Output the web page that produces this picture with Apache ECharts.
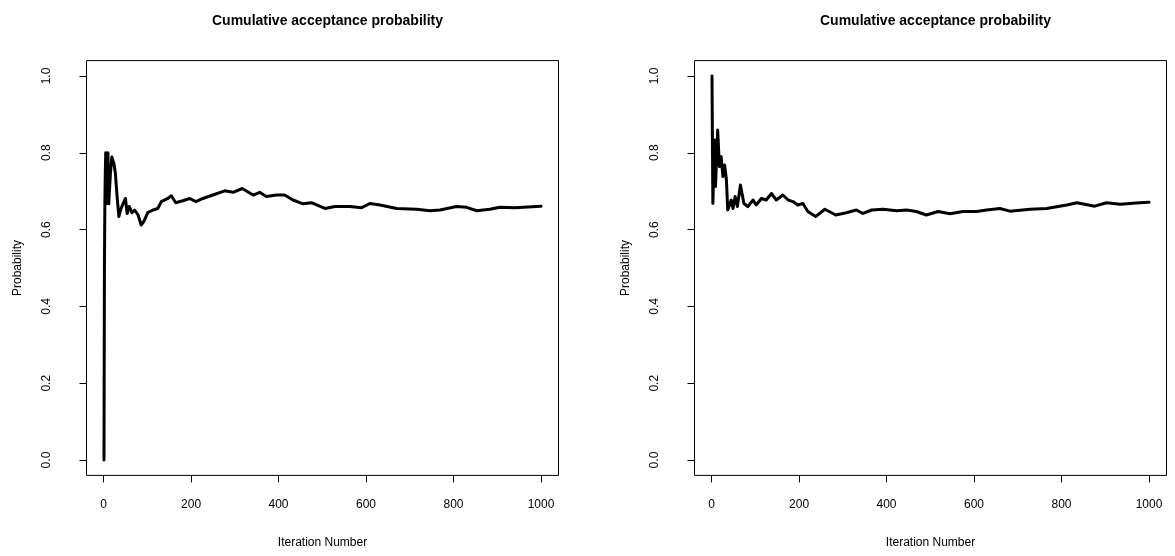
<!DOCTYPE html>
<html>
<head>
<meta charset="utf-8">
<script src="https://cdn.jsdelivr.net/npm/echarts@6/dist/echarts.min.js"></script>
<style>
html,body{margin:0;padding:0;background:#fff;}
#chart{width:1175px;height:556px;}
</style>
</head>
<body>
<div id="chart"></div>
<script>
// ---- data ----
const chartTitle = "Cumulative acceptance probability";
const xAxisName = "Iteration Number";
const yAxisName = "Probability";
const xTickValues = [0, 200, 400, 600, 800, 1000];
const yTickValues = [0, 0.2, 0.4, 0.6, 0.8, 1.0];

// left panel: [iteration, cumulative acceptance probability]
const leftSeries = [
  [1,0],[2,0.5],[3,0.667],[4,0.75],[5,0.8],[6,0.667],[7,0.714],[8,0.75],[9,0.778],[10,0.8],
  [11,0.727],[12,0.667],[13,0.692],[16,0.75],[19,0.789],[21,0.794],[24,0.77],[27,0.747],
  [31,0.686],[35,0.634],[40,0.655],[45,0.668],[50,0.681],[54,0.642],[59,0.66],[65,0.644],
  [71,0.651],[79,0.638],[86,0.612],[92,0.621],[101,0.644],[113,0.651],[124,0.655],[132,0.673],
  [147,0.681],[155,0.688],[165,0.67],[181,0.675],[197,0.681],[211,0.673],[227,0.681],[250,0.69],
  [277,0.701],[296,0.697],[317,0.707],[342,0.69],[357,0.697],[372,0.686],[395,0.69],[414,0.69],
  [433,0.677],[456,0.667],[475,0.67],[506,0.655],[529,0.66],[563,0.66],[590,0.657],[609,0.668],
  [632,0.664],[670,0.655],[716,0.653],[746,0.649],[769,0.651],[807,0.66],[830,0.658],[853,0.649],
  [883,0.653],[906,0.658],[940,0.657],[970,0.659],[1000,0.661]
];

// right panel: [iteration, cumulative acceptance probability]
const rightSeries = [
  [1,1.0],[3,0.668],[7,0.833],[9,0.712],[14,0.859],[18,0.764],[22,0.79],[26,0.738],[30,0.768],
  [34,0.729],[37,0.651],[45,0.677],[49,0.655],[54,0.686],[59,0.66],[66,0.716],[74,0.668],
  [83,0.66],[95,0.677],[102,0.664],[114,0.681],[125,0.677],[137,0.694],[148,0.677],[163,0.69],
  [175,0.677],[186,0.673],[197,0.664],[209,0.668],[220,0.647],[238,0.634],[259,0.653],[284,0.638],
  [308,0.644],[331,0.651],[346,0.642],[366,0.651],[392,0.653],[423,0.649],[446,0.651],[468,0.647],
  [491,0.638],[518,0.647],[545,0.641],[575,0.647],[606,0.647],[629,0.651],[659,0.655],[682,0.648],
  [728,0.653],[766,0.655],[812,0.664],[835,0.67],[876,0.661],[903,0.67],[934,0.666],[979,0.67],
  [1000,0.671]
];

// ---- chart ----
const FONT = '"Liberation Sans", Arial, Helvetica, sans-serif';
const panels = [
  {left: 86.5, data: leftSeries},
  {left: 694.5, data: rightSeries}
];
const gridW = 472, gridTop = 60.6, gridH = 414.8;

const option = {
  animation: false,
  backgroundColor: '#ffffff',
  title: panels.map(p => ({
    text: chartTitle,
    left: p.left + gridW / 2,
    top: 9,
    textAlign: 'center',
    textStyle: {fontFamily: FONT, fontWeight: 'bold', fontSize: 14, color: '#000'}
  })),
  grid: panels.map(p => ({
    left: p.left, top: gridTop, width: gridW, height: gridH,
    show: true, borderColor: '#000', borderWidth: 1, backgroundColor: 'transparent'
  })),
  xAxis: panels.map((p, i) => ({
    type: 'value', gridIndex: i, min: -38.96, max: 1039.96, position: 'bottom',
    splitLine: {show: false},
    axisLine: {show: false, onZero: false},
    axisTick: {show: true, inside: false, length: 7, customValues: xTickValues, lineStyle: {color: '#000', width: 1}},
    axisLabel: {show: true, customValues: xTickValues, margin: 23, color: '#000', fontFamily: FONT, fontSize: 12,
      formatter: v => String(v)},
    name: xAxisName, nameLocation: 'middle', nameGap: 61,
    nameTextStyle: {fontFamily: FONT, fontSize: 12, color: '#000'}
  })),
  yAxis: panels.map((p, i) => ({
    type: 'value', gridIndex: i, min: -0.04, max: 1.04, position: 'left',
    splitLine: {show: false},
    axisLine: {show: false, onZero: false},
    axisTick: {show: true, inside: false, length: 7, customValues: yTickValues, lineStyle: {color: '#000', width: 1}},
    axisLabel: {show: true, customValues: yTickValues, rotate: 90, margin: 34, color: '#000', fontFamily: FONT, fontSize: 12,
      formatter: v => v.toFixed(1)},
    name: yAxisName, nameLocation: 'middle', nameGap: 63, nameRotate: 90,
    nameTextStyle: {fontFamily: FONT, fontSize: 12, color: '#000'}
  })),
  series: panels.map((p, i) => ({
    type: 'line', xAxisIndex: i, yAxisIndex: i,
    data: p.data, showSymbol: false, symbol: 'none',
    lineStyle: {color: '#000', width: 3, join: 'round', cap: 'round'},
    silent: true
  }))
};

const chart = echarts.init(document.getElementById('chart'), null, {renderer: 'canvas'});
chart.setOption(option);
</script>
</body>
</html>
